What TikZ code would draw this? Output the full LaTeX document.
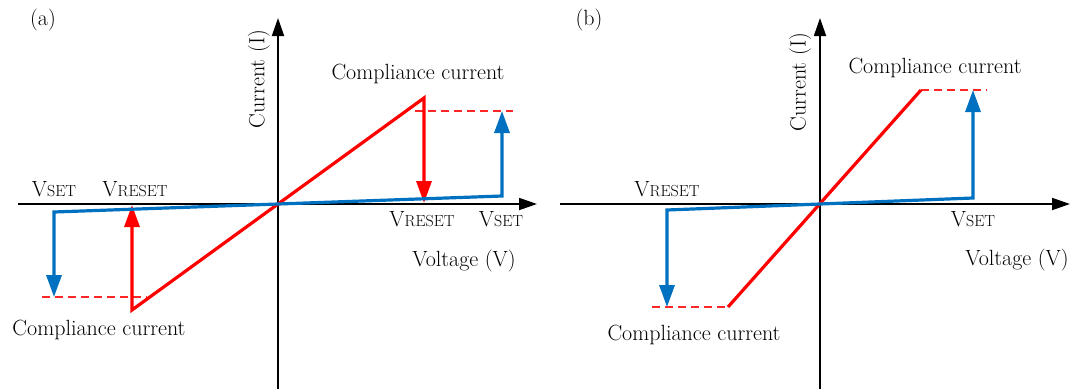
\documentclass[tikz,border=0pt]{standalone}
\usetikzlibrary{arrows.meta}
\definecolor{cblue}{RGB}{0,112,192}
\definecolor{cred}{RGB}{255,0,0}
\tikzset{
  axis/.style={black, line width=1.8pt, -{Triangle[length=18pt,width=12pt]}},
  redline/.style={cred, line width=3.2pt},
  blueline/.style={cblue, line width=3.2pt},
  tipr/.tip={Triangle[length=22pt,width=15pt]},
  cdash/.style={cred!85, line width=1.2pt, dash pattern=on 8pt off 5pt},
  lbl/.style={inner sep=0pt, font=\fontsize{22}{26}\selectfont, text=black},
}
\newcommand\mysc[1]{{\fontsize{16}{16}\selectfont #1}}
\begin{document}
\begin{tikzpicture}[x=1pt,y=-1pt]
\useasboundingbox (0,0) rectangle (1073,389);
% ---------- panel (a) ----------
\coordinate (Oa) at (278,204);
\coordinate (xa0) at (18,204);
\coordinate (xa1) at (537,204);
\coordinate (ya0) at (278,389);
\coordinate (ya1) at (278,18);
\draw[axis] (xa0) -- (xa1);
\draw[axis] (ya0) -- (ya1);
\coordinate (da1) at (415,111);
\coordinate (da2) at (513,111);
\coordinate (da3) at (42,297);
\coordinate (da4) at (147,297);
\draw[cdash] (da1) -- (da2);
\draw[cdash] (da3) -- (da4);
\coordinate (rpa) at (424,98);
\coordinate (rpb) at (424,203);
\coordinate (rna) at (132,310);
\coordinate (rnb) at (132,205);
\draw[redline, {tipr}-{tipr}] (rnb) -- (rna) -- (rpa) -- (rpb);
\coordinate (bpa) at (502,196);
\coordinate (bpb) at (502,111);
\coordinate (bna) at (54,212);
\coordinate (bnb) at (54,297);
\draw[blueline, {tipr}-{tipr}] (bnb) -- (bna) -- (Oa) -- (bpa) -- (bpb);
\node[lbl] (la) at (43,20) {(a)};
\node[lbl, rotate=90] (cia) at (259,79) {Current (I)};
\node[lbl] (cca) at (418,74) {Compliance current};
\node[lbl] (ccb) at (99,330) {Compliance current};
\node[lbl] (vsa1) at (54,189) {V\mysc{SET}};
\node[lbl] (vra1) at (135,189) {V\mysc{RESET}};
\node[lbl] (vra2) at (422,219) {V\mysc{RESET}};
\node[lbl] (vsa2) at (501,219) {V\mysc{SET}};
\node[lbl] (vva) at (464,261) {Voltage (V)};
% ---------- panel (b) ----------
\coordinate (Ob) at (820,204);
\coordinate (xb0) at (560,204);
\coordinate (xb1) at (1070,204);
\coordinate (yb0) at (820,389);
\coordinate (yb1) at (820,18);
\draw[axis] (xb0) -- (xb1);
\draw[axis] (yb0) -- (yb1);
\coordinate (db1) at (921,90);
\coordinate (db2) at (987,90);
\coordinate (db3) at (652,307);
\coordinate (db4) at (728,307);
\draw[cdash] (db1) -- (db2);
\draw[cdash] (db3) -- (db4);
\draw[redline] (db4) -- (db1);
\coordinate (bpc) at (973,198);
\coordinate (bpd) at (973,90);
\coordinate (bnc) at (667,210);
\coordinate (bnd) at (667,307);
\draw[blueline, {tipr}-{tipr}] (bnd) -- (bnc) -- (Ob) -- (bpc) -- (bpd);
\node[lbl] (lb) at (589,20) {(b)};
\node[lbl, rotate=90] (cib) at (800,82) {Current (I)};
\node[lbl] (ccc) at (935,68) {Compliance current};
\node[lbl] (ccd) at (694,335) {Compliance current};
\node[lbl] (vrb) at (667,189) {V\mysc{RESET}};
\node[lbl] (vsb) at (973,219) {V\mysc{SET}};
\node[lbl] (vvb) at (1017,260) {Voltage (V)};
\end{tikzpicture}
\end{document}
